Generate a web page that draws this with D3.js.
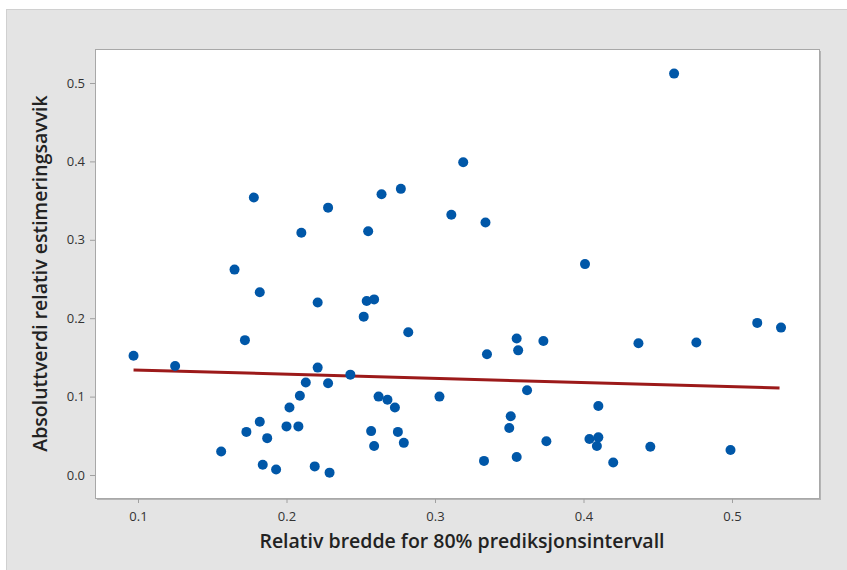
<!DOCTYPE html>
<html>
<head>
<meta charset="utf-8">
<script src="https://cdn.jsdelivr.net/npm/d3@7"></script>
<style>
    html, body { margin: 0; padding: 0; background: #ffffff; }
    svg { display: block; }
    .tick text { font-family: "Open Sans", "Noto Sans", sans-serif; font-size: 13px; fill: #333333; }
    .axis_title { font-family: "Open Sans", "Noto Sans", sans-serif; font-size: 19.5px; font-weight: 600; fill: #222222; }
</style>
</head>
<body>
<script>
// ! DATA ! //
const widthValues = [
    0.097, 0.125, 0.156, 0.165, 0.172, 0.173, 0.178, 0.182, 0.182, 0.184, 0.187,
    0.193, 0.200, 0.202, 0.208, 0.209, 0.210, 0.213, 0.219, 0.221, 0.221, 0.228,
    0.228, 0.229, 0.243, 0.252, 0.254, 0.255, 0.257, 0.259, 0.259, 0.262, 0.264,
    0.268, 0.273, 0.275, 0.277, 0.279, 0.282, 0.303, 0.311, 0.319, 0.333, 0.334,
    0.335, 0.350, 0.351, 0.355, 0.355, 0.356, 0.362, 0.373, 0.375, 0.401, 0.404,
    0.409, 0.410, 0.410, 0.420, 0.437, 0.445, 0.461, 0.476, 0.499, 0.517, 0.533
];
const deviationValues = [
    0.152, 0.139, 0.030, 0.262, 0.172, 0.055, 0.354, 0.233, 0.068, 0.013, 0.047,
    0.007, 0.062, 0.086, 0.062, 0.101, 0.309, 0.118, 0.011, 0.220, 0.137, 0.341,
    0.117, 0.003, 0.128, 0.202, 0.222, 0.311, 0.056, 0.224, 0.037, 0.100, 0.358,
    0.096, 0.086, 0.055, 0.365, 0.041, 0.182, 0.100, 0.332, 0.399, 0.018, 0.322,
    0.154, 0.060, 0.075, 0.174, 0.023, 0.159, 0.108, 0.171, 0.043, 0.269, 0.046,
    0.037, 0.088, 0.048, 0.016, 0.168, 0.036, 0.512, 0.169, 0.032, 0.194, 0.188
];
const fitX = [0.097, 0.532];
const fitY = [0.134, 0.111];

const xTicks = [0.1, 0.2, 0.3, 0.4, 0.5];
const yTicks = [0.0, 0.1, 0.2, 0.3, 0.4, 0.5];
const xTitle = "Relativ bredde for 80% prediksjonsintervall";
const yTitle = "Absoluttverdi relativ estimeringsavvik";

document.addEventListener("DOMContentLoaded", () => {
    const dims = { width: 847, height: 570 };
    const plot = { left: 95, top: 49, right: 819, bottom: 498 };

    const svg = d3.select("body").append("svg").attr("width", dims.width).attr("height", dims.height);

    // ^ GRAY PANEL ^ //
    svg.append("rect")
        .attr("x", 6.5).attr("y", 9.5)
        .attr("width", dims.width).attr("height", dims.height)
        .attr("fill", "#e4e4e4").attr("stroke", "#d0d0d0");

    // ^ SCALES ^ //
    const xScale = d3.scaleLinear().domain([0.1, 0.5]).range([138, 732]);
    const yScale = d3.scaleLinear().domain([0, 0.5]).range([475, 83]);

    // ^ PLOT BOX + SHADOW ^ //
    svg.append("rect")
        .attr("x", plot.left + 2).attr("y", plot.top + 2)
        .attr("width", plot.right - plot.left).attr("height", plot.bottom - plot.top)
        .attr("fill", "#b4b4b4");
    svg.append("rect")
        .attr("x", plot.left + 0.5).attr("y", plot.top + 0.5)
        .attr("width", plot.right - plot.left).attr("height", plot.bottom - plot.top)
        .attr("fill", "#ffffff").attr("stroke", "#a8a8a8");

    // ^ AXES ^ //
    const xAxis = svg.append("g")
        .attr("transform", `translate(0,${plot.bottom + 1})`)
        .call(d3.axisBottom(xScale).tickValues(xTicks).tickSize(4).tickPadding(9).tickFormat(d3.format(".1f")));
    const yAxis = svg.append("g")
        .attr("transform", `translate(${plot.left},0)`)
        .call(d3.axisLeft(yScale).tickValues(yTicks).tickSize(5).tickPadding(5).tickFormat(d3.format(".1f")));
    [xAxis, yAxis].forEach((ax) => {
        ax.select(".domain").remove();
        ax.selectAll(".tick line").attr("stroke", "#a0a0a0");
    });

    // ^ FIT LINE ^ //
    const line = d3.line().x((d) => xScale(d[0])).y((d) => yScale(d[1]));
    svg.append("path")
        .datum(d3.zip(fitX, fitY))
        .attr("d", line)
        .attr("fill", "none")
        .attr("stroke", "#9c1a1a")
        .attr("stroke-width", 3);

    // ^ POINTS ^ //
    svg.append("g")
        .selectAll("circle")
        .data(d3.zip(widthValues, deviationValues))
        .enter()
        .append("circle")
        .attr("cx", (d) => xScale(d[0]))
        .attr("cy", (d) => yScale(d[1]))
        .attr("r", 5)
        .attr("fill", "#0057a8");

    // ^ AXIS TITLES ^ //
    svg.append("text")
        .attr("class", "axis_title")
        .attr("x", (plot.left + plot.right) / 2 + 5)
        .attr("y", 548)
        .attr("text-anchor", "middle")
        .text(xTitle);
    svg.append("text")
        .attr("class", "axis_title")
        .attr("transform", `translate(47,${(plot.top + plot.bottom) / 2}) rotate(-90)`)
        .attr("text-anchor", "middle")
        .text(yTitle);
});
</script>
</body>
</html>
